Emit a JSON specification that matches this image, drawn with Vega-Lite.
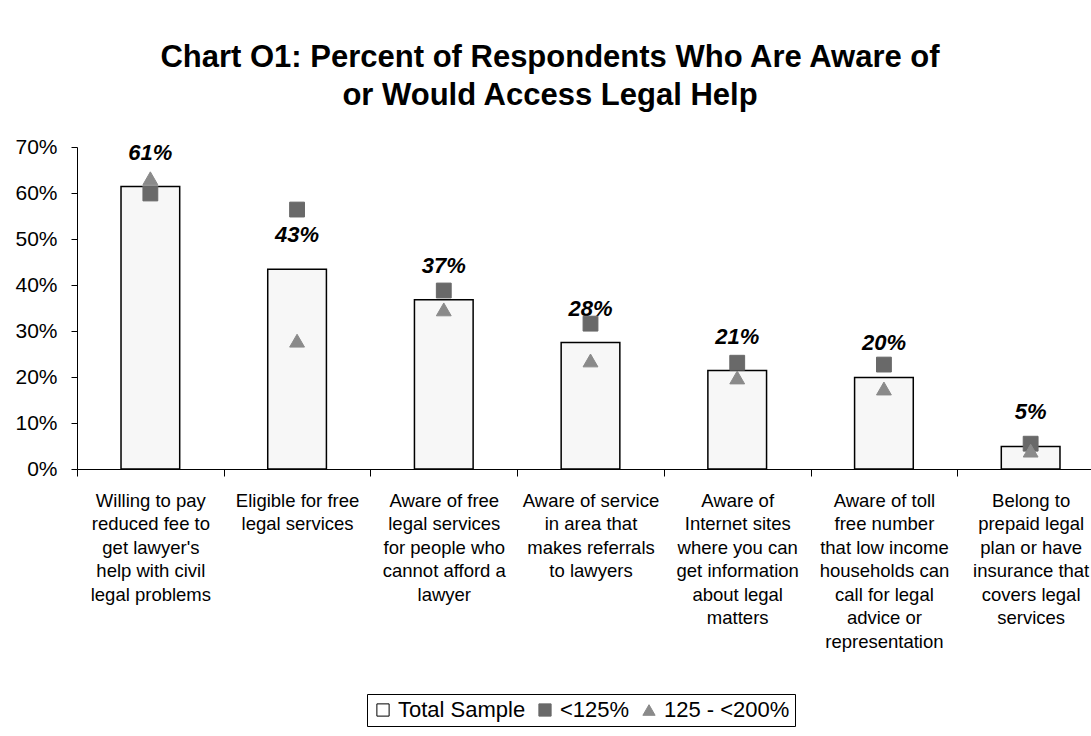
{
  "$schema": "https://vega.github.io/schema/vega-lite/v6.json",
  "autosize": "none",
  "width": 1014,
  "height": 322,
  "padding": {"left": 77, "top": 147, "right": 0, "bottom": 267},
  "background": "white",
  "config": {
    "view": {"stroke": null},
    "font": "Liberation Sans",
    "axis": {"labelFont": "Liberation Sans", "labelColor": "black", "domainColor": "black", "tickColor": "black", "grid": false}
  },
  "title": {
    "text": ["Chart O1:  Percent of Respondents Who Are Aware of", "or Would Access Legal Help"],
    "font": "Liberation Sans",
    "fontSize": 31,
    "fontWeight": "bold",
    "color": "black",
    "lineHeight": 38,
    "anchor": "middle",
    "dx": -34,
    "offset": 24
  },
  "data": {
    "values": [
      {"cat": "Willing to pay|reduced fee to|get lawyer's|help with civil|legal problems", "series": "Total Sample", "value": 0.614},
      {"cat": "Willing to pay|reduced fee to|get lawyer's|help with civil|legal problems", "series": "<125%", "value": 0.599},
      {"cat": "Willing to pay|reduced fee to|get lawyer's|help with civil|legal problems", "series": "125 - <200%", "value": 0.632},
      {"cat": "Eligible for free|legal services", "series": "Total Sample", "value": 0.434},
      {"cat": "Eligible for free|legal services", "series": "<125%", "value": 0.564},
      {"cat": "Eligible for free|legal services", "series": "125 - <200%", "value": 0.279},
      {"cat": "Aware of free|legal services|for people who|cannot afford a|lawyer", "series": "Total Sample", "value": 0.368},
      {"cat": "Aware of free|legal services|for people who|cannot afford a|lawyer", "series": "<125%", "value": 0.388},
      {"cat": "Aware of free|legal services|for people who|cannot afford a|lawyer", "series": "125 - <200%", "value": 0.347},
      {"cat": "Aware of service|in area that|makes referrals|to lawyers", "series": "Total Sample", "value": 0.275},
      {"cat": "Aware of service|in area that|makes referrals|to lawyers", "series": "<125%", "value": 0.316},
      {"cat": "Aware of service|in area that|makes referrals|to lawyers", "series": "125 - <200%", "value": 0.236},
      {"cat": "Aware of|Internet sites|where you can|get information|about legal|matters", "series": "Total Sample", "value": 0.214},
      {"cat": "Aware of|Internet sites|where you can|get information|about legal|matters", "series": "<125%", "value": 0.231},
      {"cat": "Aware of|Internet sites|where you can|get information|about legal|matters", "series": "125 - <200%", "value": 0.199},
      {"cat": "Aware of toll|free number|that low income|households can|call for legal|advice or|representation", "series": "Total Sample", "value": 0.199},
      {"cat": "Aware of toll|free number|that low income|households can|call for legal|advice or|representation", "series": "<125%", "value": 0.227},
      {"cat": "Aware of toll|free number|that low income|households can|call for legal|advice or|representation", "series": "125 - <200%", "value": 0.175},
      {"cat": "Belong to|prepaid legal|plan or have|insurance that|covers legal|services", "series": "Total Sample", "value": 0.049},
      {"cat": "Belong to|prepaid legal|plan or have|insurance that|covers legal|services", "series": "<125%", "value": 0.055},
      {"cat": "Belong to|prepaid legal|plan or have|insurance that|covers legal|services", "series": "125 - <200%", "value": 0.040}
    ]
  },
  "encoding": {
    "x": {
      "field": "cat",
      "type": "nominal",
      "sort": null,
      "title": null,
      "scale": {"paddingInner": 0, "paddingOuter": 0, "range": [0, 1027]},
      "axis": {
        "labelAngle": 0,
        "labelExpr": "split(datum.label, '|')",
        "labelFontSize": 18.5,
        "labelLineHeight": 23.5,
        "labelLimit": 0,
        "labelPadding": 15,
        "tickBand": "extent",
        "tickSize": 7,
        "labelBaseline": "top"
      }
    },
    "y": {
      "field": "value",
      "type": "quantitative",
      "title": null,
      "scale": {"domain": [0, 0.7], "nice": false},
      "axis": {
        "format": ".0%",
        "values": [0, 0.1, 0.2, 0.3, 0.4, 0.5, 0.6, 0.7],
        "labelFontSize": 21,
        "labelPadding": 14,
        "tickSize": 6
      }
    }
  },
  "layer": [
    {
      "transform": [{"filter": "datum.series === 'Total Sample'"}],
      "mark": {"type": "bar", "fill": "#f7f7f7", "stroke": "black", "strokeWidth": 1.5, "width": {"band": 0.4}}
    },
    {
      "transform": [{"filter": "datum.series === 'Total Sample'"}],
      "mark": {"type": "text", "fontSize": 22, "fontWeight": "bold", "fontStyle": "italic", "color": "black", "baseline": "alphabetic", "dy": -27},
      "encoding": {"text": {"field": "value", "type": "quantitative", "format": ".0%"}}
    },
    {
      "transform": [{"filter": "datum.series !== 'Total Sample'"}],
      "mark": {"type": "point", "filled": true, "opacity": 1, "size": 220, "strokeWidth": 1},
      "encoding": {
        "shape": {
          "field": "series", "type": "nominal",
          "scale": {"domain": ["Total Sample", "<125%", "125 - <200%"], "range": ["square", "square", "triangle-up"]},
          "legend": {
            "title": null,
            "orient": "none",
            "direction": "horizontal",
            "legendX": 290,
            "legendY": 547,
            "labelFontSize": 22,
            "labelColor": "black",
            "labelFont": "Liberation Sans",
            "symbolSize": 150,
            "symbolStrokeWidth": 1,
            "labelOffset": 4,
            "columnPadding": 8,
            "strokeColor": "black",
            "padding": 5
          }
        },
        "fill": {
          "field": "series", "type": "nominal",
          "scale": {"domain": ["Total Sample", "<125%", "125 - <200%"], "range": ["#ffffff", "#696969", "#8a8a8a"]}
        },
        "stroke": {
          "field": "series", "type": "nominal",
          "scale": {"domain": ["Total Sample", "<125%", "125 - <200%"], "range": ["#000000", "#696969", "#8a8a8a"]}
        }
      }
    }
  ]
}
